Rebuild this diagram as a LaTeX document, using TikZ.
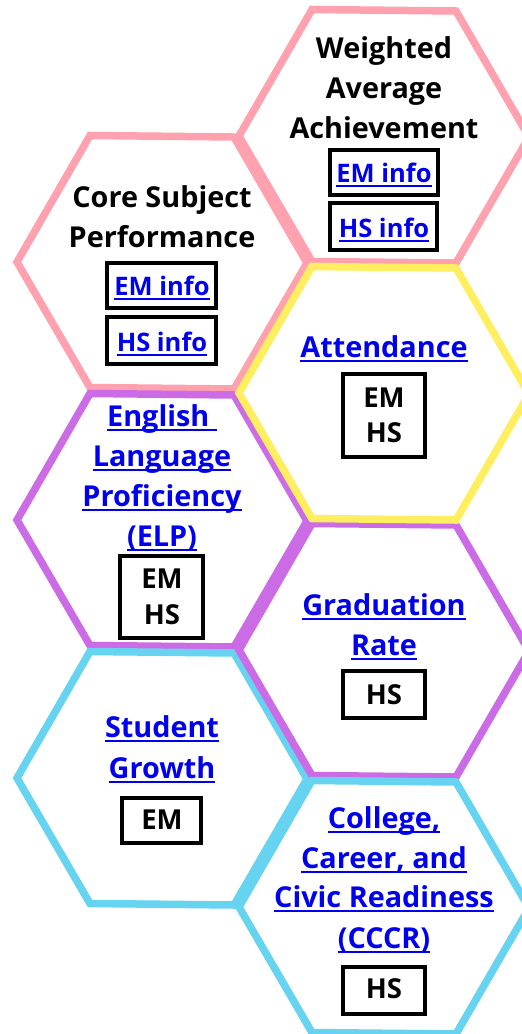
\documentclass[tikz,border=0pt]{standalone}
\usepackage{fontspec}
\setmainfont{Open Sans}
\definecolor{hpink}{HTML}{FFA1AE}
\definecolor{hyellow}{HTML}{FFEE5F}
\definecolor{hpurple}{HTML}{CB6CE6}
\definecolor{hblue}{HTML}{66D3F0}
\definecolor{linkblue}{HTML}{0000EE}
\newcommand\lk[1]{\leavevmode\setbox0\hbox{#1}\rlap{\rule[-4.6pt]{\wd0}{2pt}}\box0}
\tikzset{x=1pt,y=-1pt,
  hexa/.style={draw=#1,fill=white,line width=7.5pt,miter limit=10,line join=miter},
  head/.style={anchor=base,inner sep=0pt,font=\fontsize{28.8}{30}\selectfont\bfseries,text=black},
  linkhead/.style={head,text=linkblue},
  linksmall/.style={anchor=base,inner sep=0pt,font=\fontsize{25.5}{30}\selectfont\bfseries,text=linkblue},
  tag/.style={anchor=base,inner sep=0pt,font=\fontsize{27.5}{30}\selectfont\bfseries,text=black},
  tagbox/.style={draw=black,fill=white,line width=4.5pt}}
\newcommand\hexagon[3]{%
  \draw[hexa=#3] (#1-145,#2) -- (#1-72,#2-126.5) -- (#1+72,#2-125) -- (#1+145,#2+1)
    -- (#1+72,#2+127) -- (#1-72,#2+125.5) -- cycle;}
\newcommand\tagrect[4]{\draw[tagbox] (#1+2.2,#2+2.2) rectangle (#3-2.2,#4-2.2);}
\begin{document}
\begin{tikzpicture}
\useasboundingbox (0,0) rectangle (522,1034);
\clip (0,0) rectangle (522,1034);
\hexagon{162}{262}{hpink}
\hexagon{384}{136}{hpink}
\hexagon{162}{520}{hpurple}
\hexagon{162}{778}{hblue}
\hexagon{384}{650}{hpurple}
\hexagon{384}{393}{hyellow}
\hexagon{384}{907}{hblue}
% boxes
\tagrect{105}{261}{218}{310}
\tagrect{105}{315}{218}{366}
\tagrect{328}{148}{440}{197}
\tagrect{328}{201}{439}{252}
\tagrect{341}{372}{427}{459}
\tagrect{118}{554}{205}{640}
\tagrect{341}{669}{427}{720}
\tagrect{120}{796}{203}{845}
\tagrect{341}{965}{427}{1016}
% Weighted
\node[head] (w1) at (384,58) {Weighted};
\node[head] (w2) at (384,98) {Average};
\node[head] (w3) at (384,138) {Achievement};
\node[linksmall] (wem) at (384,182) {\lk{EM info}};
\node[linksmall] (whs) at (384,237) {\lk{HS info}};
% Core
\node[head] (c1) at (162,207) {Core Subject};
\node[head] (c2) at (162,247) {Performance};
\node[linksmall] (cem) at (162,295) {\lk{EM info}};
\node[linksmall] (chs) at (162,351) {\lk{HS info}};
% Attendance
\node[linkhead] (a1) at (384,357) {\lk{Attendance}};
\node[tag] (aem) at (384,407) {EM};
\node[tag] (ahs) at (384,442) {HS};
% ELP
\node[linkhead] (e1) at (162,426) {\lk{English\ }};
\node[linkhead] (e2) at (162,466) {\lk{Language}};
\node[linkhead] (e3) at (162,506) {\lk{Proficiency}};
\node[linkhead] (e4) at (162,546) {\lk{(ELP)}};
\node[tag] (eem) at (162,588) {EM};
\node[tag] (ehs) at (162,624) {HS};
% Graduation
\node[linkhead] (g1) at (384,615) {\lk{Graduation}};
\node[linkhead] (g2) at (384,655) {\lk{Rate}};
\node[tag] (ghs) at (384,704) {HS};
% Student
\node[linkhead] (s1) at (162,737) {\lk{Student}};
\node[linkhead] (s2) at (162,778) {\lk{Growth}};
\node[tag] (sem) at (162,829) {EM};
% CCCR
\node[linkhead] (r1) at (384,828) {\lk{College,}};
\node[linkhead] (r2) at (384,868) {\lk{Career, and}};
\node[linkhead] (r3) at (384,907) {\lk{Civic Readiness}};
\node[linkhead] (r4) at (384,948) {\lk{(CCCR)}};
\node[tag] (rhs) at (384,998) {HS};
\end{tikzpicture}
\end{document}
